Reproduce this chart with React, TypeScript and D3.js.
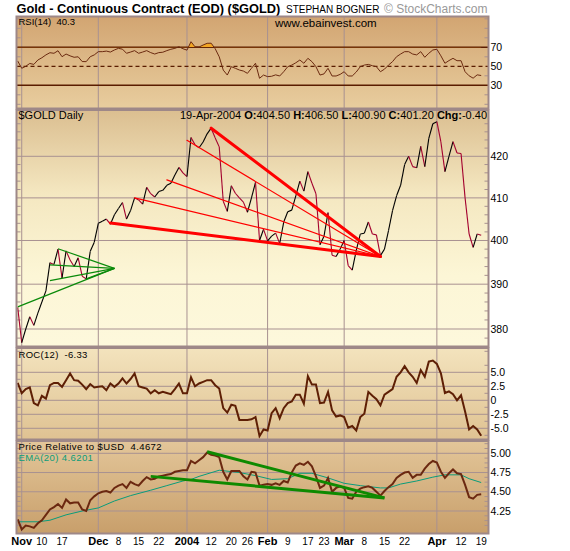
import React from "react";
import * as d3 from "d3";

// trading days shown on the chart (year, month, days)
const tradingMonths: [number, number, number[]][] = [
  [2003, 10, [31]],
  [2003, 11, [3, 4, 5, 6, 7, 10, 11, 12, 13, 14, 17, 18, 19, 20, 21, 24, 25, 26, 28]],
  [2003, 12, [1, 2, 3, 4, 5, 8, 9, 10, 11, 12, 15, 16, 17, 18, 19, 22, 23, 24, 26, 29, 30, 31]],
  [2004, 1, [2, 5, 6, 7, 8, 9, 12, 13, 14, 15, 16, 20, 21, 22, 23, 26, 27, 28, 29, 30]],
  [2004, 2, [2, 3, 4, 5, 6, 9, 10, 11, 12, 13, 17, 18, 19, 20, 23, 24, 25, 26, 27]],
  [2004, 3, [1, 2, 3, 4, 5, 8, 9, 10, 11, 12, 15, 16, 17, 18, 19, 22, 23, 24, 25, 26, 29, 30, 31]],
  [2004, 4, [1, 2, 5, 6, 7, 8, 12, 13, 14, 15, 16, 19]],
];

// $GOLD daily close
const closes = [
  384.8, 377.0, 380.0, 382.7, 380.8, 383.5, 386.0, 388.5, 394.9, 394.5,
  398.0, 391.4, 397.6, 395.5, 394.0, 396.0, 391.8, 391.2, 397.5, 399.6,
  404.0, 404.5, 405.0, 403.8, 406.0, 407.5, 408.9, 405.0, 407.0, 410.0,
  409.5, 408.5, 412.5, 411.0, 410.2, 411.5, 411.8, 413.0, 413.5, 415.5,
  417.3, 416.0, 415.1, 424.6, 422.8, 422.1, 423.5, 425.5, 426.9, 424.5,
  422.3, 409.2, 406.8, 412.9, 411.1, 410.0, 409.0, 406.6, 410.0, 413.7,
  400.0, 402.6, 399.9, 401.0, 401.7, 399.3, 404.3, 406.7, 407.1, 410.5,
  414.0, 411.6, 416.3, 413.5, 411.0, 399.0, 401.0, 406.5, 396.6, 396.3,
  398.0, 400.0, 394.2, 393.2, 397.7, 401.5, 401.7, 404.3, 401.5, 401.3,
  396.5, 398.0, 402.3, 407.0, 410.5, 413.0, 418.0, 420.0, 417.5, 417.2,
  422.4, 417.5, 424.4, 428.0, 428.5, 423.5, 416.3, 420.0, 423.6, 420.8,
  420.7, 410.0, 401.5, 398.4, 401.5, 401.2,
];

// RSI(14)
const rsi = [
  55.6, 47.9, 50.0, 53.0, 52.0, 56.6, 59.0, 62.0, 64.3, 63.7,
  66.4, 60.1, 62.9, 61.0, 59.5, 60.0, 55.0, 54.9, 60.1, 62.0,
  65.4, 65.4, 66.0, 65.0, 67.2, 68.9, 68.0, 63.7, 65.0, 66.5,
  63.7, 65.0, 66.5, 64.4, 62.9, 64.4, 64.8, 66.5, 67.9, 68.9,
  70.6, 68.5, 67.0, 75.9, 70.5, 70.3, 72.4, 74.2, 74.3, 68.5,
  60.0, 46.0, 40.8, 49.6, 47.9, 46.1, 45.0, 42.6, 47.9, 53.2,
  37.4, 40.8, 39.1, 39.5, 41.0, 39.8, 44.3, 49.6, 51.3, 53.7,
  56.6, 53.2, 58.4, 54.9, 49.6, 40.8, 42.0, 47.9, 39.8, 39.8,
  41.5, 44.3, 39.8, 39.8, 44.0, 49.6, 51.3, 52.0, 50.6, 49.6,
  44.3, 47.0, 51.3, 54.9, 60.1, 62.9, 65.4, 65.4, 62.9, 62.0,
  65.4, 59.5, 63.7, 67.2, 67.9, 61.0, 53.2, 56.0, 58.4, 55.9,
  55.9, 44.3, 40.0, 37.5, 41.0, 40.3,
];

// ROC(12)
const roc = [
  3.1, 1.25, 2.0, 2.3, -0.5, -0.9, 0.8, 0.3, 2.7, 3.1,
  3.1, 2.4, 3.6, 4.8, 3.6, 3.5, 2.8, 2.0, 2.9, 2.3,
  2.4, 2.5, 1.8, 3.0, 2.4, 3.0, 3.9, 3.0, 3.8, 4.8,
  2.5, 2.3, 2.1, 1.25, 1.8, 1.25, 1.5, 1.3, 1.1, 2.0,
  3.0, 1.25, 1.25, 4.1, 2.5, 3.0, 3.3, 3.6, 3.6, 2.7,
  2.1, -1.4, -2.2, -0.8, -1.0, -3.5, -3.5, -3.5, -3.4, -3.0,
  -6.4, -5.2, -5.4, -2.3, -1.4, -3.2, -1.4, -0.5, -0.2, 1.0,
  1.0, -0.6, 4.3, 2.8, 2.8, -0.5, -0.4, 1.5, -1.8, -2.9,
  -2.7, -3.0, -4.9, -4.6, -5.4, -3.0, -2.4, 1.5, 0.8, 0.2,
  -0.9, 1.0, 1.5, 2.0, 4.2, 5.0, 6.1, 5.0, 4.2, 3.1,
  5.4, 4.2, 6.9, 7.1, 6.5, 4.8, 1.3, 1.6, 1.1, 0.0,
  0.9, -2.0, -5.2, -4.6, -5.2, -6.33,
];

// Price relative to $USD
const priceRel = [
  4.14, 4.01, 4.06, 4.05, 4.03, 4.09, 4.13, 4.2, 4.27, 4.3,
  4.34, 4.29, 4.4, 4.35, 4.36, 4.36, 4.27, 4.25, 4.39, 4.44,
  4.48, 4.5, 4.51, 4.49, 4.55, 4.58, 4.6, 4.55, 4.63, 4.6,
  4.58, 4.64, 4.69, 4.66, 4.67, 4.7, 4.71, 4.72, 4.73, 4.76,
  4.77, 4.78, 4.78, 4.9, 4.87, 4.91, 4.95, 5.01, 4.98, 4.97,
  4.95, 4.76, 4.66, 4.77, 4.77, 4.77, 4.7, 4.66, 4.76, 4.75,
  4.58, 4.59, 4.6, 4.59, 4.61, 4.59, 4.64, 4.62, 4.75, 4.84,
  4.87, 4.85, 4.89, 4.83, 4.7, 4.55, 4.58, 4.68, 4.5, 4.55,
  4.57, 4.55, 4.42, 4.41, 4.5, 4.54, 4.56, 4.57, 4.55, 4.5,
  4.45, 4.51, 4.56, 4.6, 4.68, 4.72, 4.75, 4.76, 4.68, 4.72,
  4.72, 4.8, 4.86, 4.9, 4.88, 4.76, 4.68, 4.74, 4.79, 4.74,
  4.73, 4.59, 4.43, 4.41, 4.46, 4.4672,
];

// EMA(20) of the price relative, read at these trading-day positions
const emaIdx = [0, 5, 8, 12, 16, 20, 24, 28, 33, 37, 41, 43, 45, 50, 55, 59, 63, 67, 70, 73, 77, 81, 85, 90, 92, 95, 99, 103, 106, 110, 112, 115];
const emaVals = [4.11, 4.11, 4.13, 4.2, 4.25, 4.29, 4.38, 4.45, 4.52, 4.58, 4.64, 4.66, 4.7, 4.78, 4.75, 4.71, 4.66, 4.67, 4.74, 4.74, 4.68, 4.61, 4.58, 4.55, 4.55, 4.6, 4.64, 4.69, 4.72, 4.72, 4.67, 4.62];

const monthStarts = ["2003-11-03", "2003-12-01", "2004-01-02", "2004-02-02", "2004-03-01", "2004-04-01"];
const xTickDates = ["2003-11-03", "2003-11-10", "2003-11-17", "2003-12-01", "2003-12-08", "2003-12-15", "2003-12-22", "2004-01-02", "2004-01-12", "2004-01-20", "2004-01-26", "2004-02-02", "2004-02-09", "2004-02-17", "2004-02-23", "2004-03-01", "2004-03-08", "2004-03-15", "2004-03-22", "2004-04-01", "2004-04-12", "2004-04-19"];
const xTickLabels = ["Nov", "10", "17", "Dec", "8", "15", "22", "2004", "12", "20", "26", "Feb", "9", "17", "23", "Mar", "8", "15", "22", "Apr", "12", "19"];

const rsiTicks = [70, 50, 30];
const mainTicks = [380, 390, 400, 410, 420];
const rocTicks = [5, 2.5, 0, -2.5, -5];
const rocTickLabels = ["5.0", "2.5", "0", "-2.5", "-5.0"];
const prTicks = [5, 4.75, 4.5, 4.25];

// annotation lines: [fromDate, fromValue, toDate, toValue, width]
const redFan: [string, number, string, number, number][] = [
  ["2004-01-12", 426.9, "2004-03-12", 396.3, 3],
  ["2004-01-02", 423.9, "2004-03-12", 396.3, 1.2],
  ["2003-12-24", 414.3, "2004-03-12", 396.3, 1.2],
  ["2003-12-12", 410.0, "2004-03-12", 396.3, 1.2],
  ["2003-12-04", 404.1, "2004-03-12", 396.3, 3],
];
const greenTriangle: [string, number, string, number][] = [
  ["2003-10-31", 384.9, "2003-12-05", 393.6],
  ["2003-11-14", 398.1, "2003-12-05", 393.6],
  ["2003-11-12", 394.4, "2003-12-05", 393.6],
  ["2003-11-12", 390.8, "2003-12-05", 393.6],
  ["2003-11-25", 391.2, "2003-12-05", 393.6],
];
const prLines: [string, number, string, number][] = [
  ["2004-01-09", 5.02, "2004-03-15", 4.42],
  ["2003-12-18", 4.7, "2004-03-15", 4.42],
];

const pad = (n: number) => (n < 10 ? "0" + n : "" + n);
const dates: string[] = tradingMonths.flatMap(([y, m, days]) => days.map((d) => `${y}-${pad(m)}-${pad(d)}`));

const FONT = "'Liberation Sans', Arial, sans-serif";
const GRID = "#a89191";
const BORDER = "#9e8888";
const L = 16.5;
const R = 488.5;

const panels = {
  rsi: { top: 16.5, bottom: 108.5 },
  main: { top: 110, bottom: 346.5 },
  roc: { top: 348, bottom: 439.5 },
  pr: { top: 441, bottom: 533.5 },
};

const App: React.FC = () => {
  const x = d3.scalePoint<string>().domain(dates).range([17.7, 481.2]);
  const rsiY = d3.scaleLinear().domain([30, 70]).range([85.3, 47.3]);
  const mainY = d3.scaleLog().domain([380, 420]).range([329, 156.3]);
  const rocY = d3.scaleLinear().domain([-5, 5]).range([428.3, 372.3]);
  const prY = d3.scaleLinear().domain([4.25, 5]).range([511, 453.3]);

  const rsiLine = d3.line<number>().x((_, i) => x(dates[i])!).y((d) => rsiY(d));
  const rsiArea = d3.area<number>().x((_, i) => x(dates[i])!).y0(rsiY(70)).y1((d) => rsiY(d));
  const rocLine = d3.line<number>().x((_, i) => x(dates[i])!).y((d) => rocY(d));
  const prLine = d3.line<number>().x((_, i) => x(dates[i])!).y((d) => prY(d));
  const emaLine = d3.line<number>().x((_, i) => x(dates[emaIdx[i]])!).y((d) => prY(d));

  const panelBg = (key: keyof typeof panels, grad: string) => {
    const p = panels[key];
    return (
      <g>
        <rect x={L} y={p.top} width={R - L} height={p.bottom - p.top} fill={`url(#${grad})`} />
        {monthStarts.map((d) => (
          <line key={d} x1={x(d)} x2={x(d)} y1={p.top} y2={p.bottom} stroke={GRID} strokeWidth={1} />
        ))}
      </g>
    );
  };

  const border = (key: keyof typeof panels) => {
    const p = panels[key];
    return <rect x={L} y={p.top} width={R - L} height={p.bottom - p.top} fill="none" stroke={BORDER} strokeWidth={2} />;
  };

  const minorTicks = (key: keyof typeof panels, ys: number[]) => {
    const p = panels[key];
    return ys
      .filter((y) => y > p.top + 1 && y < p.bottom - 1)
      .map((y, i) => (
        <g key={i}>
          <line x1={L} x2={L + 4} y1={y} y2={y} stroke={GRID} />
          <line x1={R - 4} x2={R} y1={y} y2={y} stroke={GRID} />
        </g>
      ));
  };

  const mainMinor = d3.range(376, 432, 2).filter((v) => v % 10 !== 0).map((v) => mainY(v));
  const rsiMinor = [10, 20, 40, 60, 80, 90, 100].map((v) => rsiY(v));
  const rocMinor = [-6.25, -3.75, -1.25, 1.25, 3.75, 6.25, 8.75].map((v) => rocY(v));
  const prMinor = d3.range(3.9375, 5.2, 0.0625).filter((v) => Math.abs(v * 4 - Math.round(v * 4)) > 0.01).map((v) => prY(v));

  const yLabel = (y: number, text: string, key: string) => (
    <text key={key} x={490.5} y={y} dy="0.35em" fontSize={10.5} fontFamily={FONT} fill="#000">
      {text}
    </text>
  );

  return (
    <svg width={570} height={551} style={{ position: "absolute", left: 0, top: 0, background: "#fff" }} fontFamily={FONT}>
      <defs>
        <linearGradient id="gRsi" x1="0" y1="0" x2="0" y2="1">
          <stop offset="0" stopColor="#d2a572" />
          <stop offset="1" stopColor="#e8cd9e" />
        </linearGradient>
        <linearGradient id="gMain" x1="0" y1="0" x2="0" y2="1">
          <stop offset="0" stopColor="#dbbe90" />
          <stop offset="0.35" stopColor="#f4e7c0" />
          <stop offset="0.7" stopColor="#fcf6d6" />
          <stop offset="1" stopColor="#fdf8dc" />
        </linearGradient>
        <linearGradient id="gRoc" x1="0" y1="0" x2="0" y2="1">
          <stop offset="0" stopColor="#f3e3bd" />
          <stop offset="1" stopColor="#dfc292" />
        </linearGradient>
        <linearGradient id="gPr" x1="0" y1="0" x2="0" y2="1">
          <stop offset="0" stopColor="#e3c699" />
          <stop offset="1" stopColor="#c89f6b" />
        </linearGradient>
        <clipPath id="above70">
          <rect x={L} y={panels.rsi.top} width={R - L} height={rsiY(70) - panels.rsi.top} />
        </clipPath>
        <clipPath id="mainClip">
          <rect x={L} y={panels.main.top} width={R - L} height={panels.main.bottom - panels.main.top} />
        </clipPath>
      </defs>

      {/* title */}
      <text x={16.5} y={12.7} fontSize={12.8} fontWeight="bold" fill="#000">
        Gold - Continuous Contract (EOD) ($GOLD)
      </text>
      <text x={286} y={12.7} fontSize={10} fill="#000">
        STEPHAN BOGNER
      </text>
      <text x={384} y={12.7} fontSize={12} fill="#999">
        © StockCharts.com
      </text>

      {/* RSI panel */}
      {panelBg("rsi", "gRsi")}
      {minorTicks("rsi", rsiMinor)}
      <line x1={L} x2={R} y1={rsiY(70)} y2={rsiY(70)} stroke="#5a1c00" strokeWidth={1.5} />
      <line x1={L} x2={R} y1={rsiY(30)} y2={rsiY(30)} stroke="#5a1c00" strokeWidth={1.5} />
      <line x1={L} x2={R} y1={rsiY(50)} y2={rsiY(50)} stroke="#5a1c00" strokeWidth={1.2} strokeDasharray="4,3" />
      <path d={rsiArea(rsi)!} fill="#f2a623" clipPath="url(#above70)" />
      <path d={rsiLine(rsi)!} fill="none" stroke="#6b2a10" strokeWidth={1} />
      <text x={18.5} y={25} fontSize={9.5} fill="#000">
        {"RSI(14)\u00a0\u00a040.3"}
      </text>
      <text x={275} y={27} fontSize={11.5} fill="#000">
        www.ebainvest.com
      </text>
      {rsiTicks.map((v) => yLabel(rsiY(v), String(v), "r" + v))}
      {border("rsi")}

      {/* main price panel */}
      {panelBg("main", "gMain")}
      {mainTicks.map((v) => (
        <line key={v} x1={L} x2={R} y1={mainY(v)} y2={mainY(v)} stroke={GRID} strokeWidth={1} />
      ))}
      {minorTicks("main", mainMinor)}
      <g clipPath="url(#mainClip)">
        {closes.slice(1).map((c, i) => (
          <line
            key={i}
            x1={x(dates[i])}
            y1={mainY(closes[i])}
            x2={x(dates[i + 1])}
            y2={mainY(c)}
            stroke={c >= closes[i] ? "#000000" : "#a3002e"}
            strokeWidth={1.1}
          />
        ))}
        {greenTriangle.map(([d0, v0, d1, v1], i) => (
          <line key={"g" + i} x1={x(d0)} y1={mainY(v0)} x2={x(d1)} y2={mainY(v1)} stroke="#0a8a0a" strokeWidth={1.2} />
        ))}
        {redFan.map(([d0, v0, d1, v1, w], i) => (
          <line key={"f" + i} x1={x(d0)} y1={mainY(v0)} x2={x(d1)} y2={mainY(v1)} stroke="#ff0000" strokeWidth={w} strokeLinecap="round" />
        ))}
      </g>
      <text x={18.5} y={118.5} fontSize={11} fill="#000">
        $GOLD Daily
      </text>
      <text x={487} y={118.5} fontSize={11} fill="#000" textAnchor="end">
        {"19-Apr-2004 "}
        <tspan fontWeight="bold">O:</tspan>
        {"404.50 "}
        <tspan fontWeight="bold">H:</tspan>
        {"406.50 "}
        <tspan fontWeight="bold">L:</tspan>
        {"400.90 "}
        <tspan fontWeight="bold">C:</tspan>
        {"401.20 "}
        <tspan fontWeight="bold">Chg:</tspan>
        {"-0.40"}
      </text>
      {mainTicks.map((v) => yLabel(mainY(v), String(v), "m" + v))}
      {border("main")}

      {/* ROC panel */}
      {panelBg("roc", "gRoc")}
      {rocTicks.map((v) => (
        <line key={v} x1={L} x2={R} y1={rocY(v)} y2={rocY(v)} stroke={GRID} strokeWidth={1} />
      ))}
      {minorTicks("roc", rocMinor)}
      <path d={rocLine(roc)!} fill="none" stroke="#5e1f05" strokeWidth={2} />
      <text x={18.5} y={357.5} fontSize={9.5} letterSpacing={0.3} fill="#000">
        {"ROC(12)\u00a0\u00a0-6.33"}
      </text>
      {rocTicks.map((v, i) => yLabel(rocY(v), rocTickLabels[i], "c" + i))}
      {border("roc")}

      {/* price relative panel */}
      {panelBg("pr", "gPr")}
      {prTicks.map((v) => (
        <line key={v} x1={L} x2={R} y1={prY(v)} y2={prY(v)} stroke={GRID} strokeWidth={1} />
      ))}
      {minorTicks("pr", prMinor)}
      <path d={emaLine(emaVals)!} fill="none" stroke="#0a9c7a" strokeWidth={1} />
      <path d={prLine(priceRel)!} fill="none" stroke="#6b2810" strokeWidth={2} />
      {prLines.map(([d0, v0, d1, v1], i) => (
        <line key={i} x1={x(d0)} y1={prY(v0)} x2={x(d1)} y2={prY(v1)} stroke="#0e8a00" strokeWidth={3} />
      ))}
      <text x={18.5} y={449.5} fontSize={9.5} letterSpacing={0.4} fill="#000">
        {"Price Relative to $USD\u00a0\u00a04.4672"}
      </text>
      <text x={18.5} y={460.5} fontSize={9.5} letterSpacing={0.4} fill="#0a9c7a">
        EMA(20) 4.6201
      </text>
      {prTicks.map((v) => yLabel(prY(v), v.toFixed(2), "p" + v))}
      {border("pr")}

      {/* date axis */}
      {xTickDates.map((d, i) => {
        const isMonth = isNaN(Number(xTickLabels[i])) || xTickLabels[i] === "2004";
        return (
          <text
            key={d}
            x={x(d)}
            y={544.5}
            textAnchor="middle"
            fontSize={isMonth ? 11 : 10}
            fontWeight={isMonth ? "bold" : "normal"}
            fill="#000"
          >
            {xTickLabels[i]}
          </text>
        );
      })}
    </svg>
  );
};

export default App;
